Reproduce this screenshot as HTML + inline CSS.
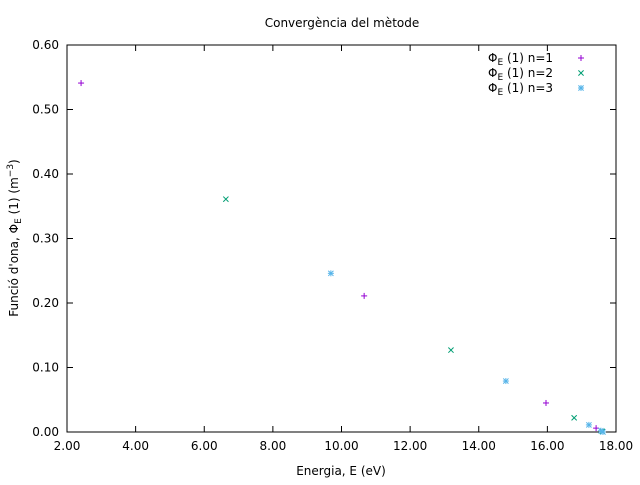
<!DOCTYPE html>
<html><head><meta charset="utf-8"><style>
body{margin:0;background:#fff;font-family:"Liberation Sans","DejaVu Sans",sans-serif;}
svg text{font-family:"DejaVu Sans","Liberation Sans",sans-serif;font-size:12px;fill:#000;}
</style></head><body>
<svg id="chart" width="640" height="480">
<text x="342" y="27" text-anchor="middle">Convergència del mètode</text>
<g id="axes"></g>
<g id="marks"></g>
<text x="341" y="475" text-anchor="middle">Energia, E (eV)</text>
<text transform="translate(18,238) rotate(-90)" text-anchor="middle">Funció d'ona, Φ<tspan font-size="9" dy="3">E</tspan><tspan dy="-3"> (1) (m</tspan><tspan font-size="9" dy="-5">−3</tspan><tspan dy="5">)</tspan></text>
<g id="legend"></g>
</svg>
<script>
const xTicks=[2,4,6,8,10,12,14,16,18];
const yTicks=[0,0.1,0.2,0.3,0.4,0.5,0.6];
const seriesNames=["n=1","n=2","n=3"];
const colors=["#9400d3","#009e73","#56b4e9"];
const s1x=[2.41,10.66,15.96,17.42];
const s1y=[0.541,0.211,0.045,0.006];
const s2x=[6.63,13.19,16.78,17.6];
const s2y=[0.361,0.127,0.022,0.001];
const s3x=[9.69,14.79,17.21,17.56,17.62];
const s3y=[0.246,0.079,0.011,0.002,0.0];
const L=67,R=616,T=45,B=432;
const sx=v=>L+(v-2)/(18-2)*(R-L);
const sy=v=>B-v/0.6*(B-T);
const NS="http://www.w3.org/2000/svg";
function mk(tag,attrs,parent){const e=document.createElementNS(NS,tag);for(const k in attrs)e.setAttribute(k,attrs[k]);parent.appendChild(e);return e;}
const axes=document.getElementById('axes');
const frame=mk('rect',{x:L,y:T,width:R-L,height:B-T,fill:'none',stroke:'#000','stroke-width':1},axes);


xTicks.forEach(v=>{const x=sx(v);
mk('line',{x1:x,y1:B,x2:x,y2:B-6,stroke:'#000'},axes);
mk('line',{x1:x,y1:T,x2:x,y2:T+6,stroke:'#000'},axes);
const t=mk('text',{x:x,y:B+18,'text-anchor':'middle'},axes);t.textContent=v.toFixed(2);

});
yTicks.forEach(v=>{const y=sy(v);
mk('line',{x1:L,y1:y,x2:L+6,y2:y,stroke:'#000'},axes);
mk('line',{x1:R,y1:y,x2:R-6,y2:y,stroke:'#000'},axes);
const t=mk('text',{x:L-8,y:y+4,'text-anchor':'end'},axes);t.textContent=v.toFixed(2);

});
function marker(type,x,y,c,p){const g=mk('g',{stroke:c,'stroke-width':1},p);
if(type!==1){mk('line',{x1:x-3,y1:y,x2:x+3,y2:y},g);mk('line',{x1:x,y1:y-3,x2:x,y2:y+3},g);}
if(type!==0){mk('line',{x1:x-2.6,y1:y-2.6,x2:x+2.6,y2:y+2.6},g);mk('line',{x1:x-2.6,y1:y+2.6,x2:x+2.6,y2:y-2.6},g);}
return g;}
const marks=document.getElementById('marks');
[[s1x,s1y],[s2x,s2y],[s3x,s3y]].forEach((s,i)=>{s[0].forEach((xv,j)=>{
const g=marker(i,sx(xv),sy(s[1][j]),colors[i],marks);

});});
const leg=document.getElementById('legend');
seriesNames.forEach((n,i)=>{const y=62+i*15;
const t=mk('text',{x:488,y:y},leg);
t.innerHTML='Φ<tspan font-size="9" dy="3">E</tspan><tspan dy="-3"> (1) '+n+'</tspan>';


marker(i,581,y-4,colors[i],leg);});
</script>
</body></html>
